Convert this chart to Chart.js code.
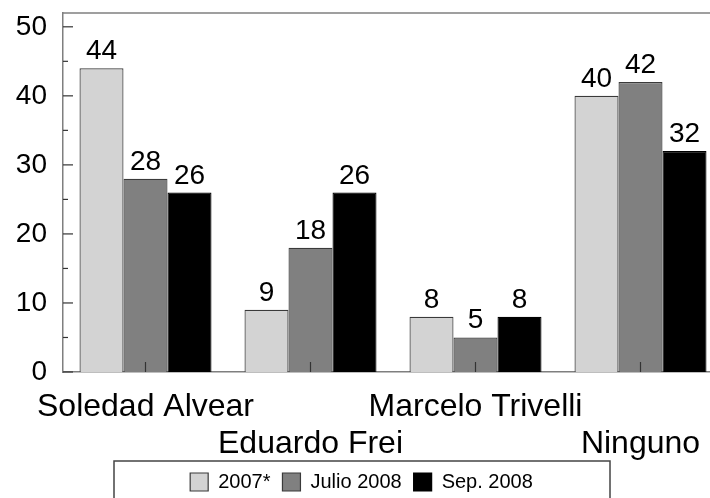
<!DOCTYPE html>
<html>
<head>
<meta charset="utf-8">
<script src="https://cdn.jsdelivr.net/npm/chart.js@4"></script>
<style>
    html, body { margin: 0; padding: 0; background: #ffffff; overflow: hidden; }
    #wrap { width: 724px; height: 502px; }
</style>
</head>
<body>
<div id="wrap"><canvas id="chart" width="724" height="502"></canvas></div>
<script>
// categories (two rows of labels, alternating)
const categories = [
    ['Soledad Alvear', ''],
    ['', 'Eduardo Frei'],
    ['Marcelo Trivelli', ''],
    ['', 'Ninguno']
];
const series_names = ['2007*', 'Julio 2008', 'Sep. 2008'];
const values_2007 = [44, 9, 8, 40];
const values_jul2008 = [28, 18, 5, 42];
const values_sep2008 = [26, 26, 8, 32];
const y_ticks = [0, 10, 20, 30, 40, 50];
const y_minor = [5, 15, 25, 35, 45];

const font_family = '"Liberation Sans", Arial, sans-serif';
const axis_color = '#7f7f7f';
const canvas_h = 502;

// ticks inside the plot, top frame line and value labels
const extras_plugin = {
    id: 'extras',
    afterDatasetsDraw(chart) {
        const ctx = chart.ctx;
        const area = chart.chartArea;
        const y = chart.scales.y;
        const x = chart.scales.x;

        ctx.save();
        ctx.strokeStyle = '#333333';
        ctx.lineWidth = 1.2;
        y_ticks.forEach(v => {
            let py = y.getPixelForValue(v);
            ctx.beginPath();
            ctx.moveTo(area.left, py);
            ctx.lineTo(area.left + 10, py);
            ctx.stroke();
        });
        y_minor.forEach(v => {
            let py = y.getPixelForValue(v);
            ctx.beginPath();
            ctx.moveTo(area.left, py);
            ctx.lineTo(area.left + 5, py);
            ctx.stroke();
        });
        for (let i = 0; i < categories.length; i++) {
            let px = x.getPixelForValue(i);
            ctx.beginPath();
            ctx.moveTo(px, area.bottom);
            ctx.lineTo(px, area.bottom - 10);
            ctx.stroke();
        }

        ctx.strokeStyle = axis_color;
        ctx.lineWidth = 1.5;
        ctx.beginPath();
        ctx.moveTo(area.left, area.top);
        ctx.lineTo(area.right, area.top);
        ctx.stroke();

        ctx.fillStyle = '#000000';
        ctx.font = '28px ' + font_family;
        ctx.textAlign = 'center';
        ctx.textBaseline = 'alphabetic';
        chart.data.datasets.forEach((ds, di) => {
            chart.getDatasetMeta(di).data.forEach((bar, i) => {
                ctx.fillText(String(ds.data[i]), bar.x, bar.y - 9);
            });
        });
        ctx.restore();
    },
    afterDraw(chart) {
        const ctx = chart.ctx;
        const legend = chart.legend;
        ctx.save();
        ctx.strokeStyle = '#444444';
        ctx.lineWidth = 1.5;
        let w = 496;
        let left = chart.width / 2 - w / 2;
        ctx.strokeRect(left, legend.top + 1, w, 60);
        ctx.restore();
    }
};

new Chart(document.getElementById('chart').getContext('2d'), {
    type: 'bar',
    data: {
        labels: categories,
        datasets: [
            {
                label: series_names[0],
                data: values_2007,
                backgroundColor: '#d3d3d3',
                borderColor: '#3a3a3a',
                borderWidth: 1.2
            },
            {
                label: series_names[1],
                data: values_jul2008,
                backgroundColor: '#808080',
                borderColor: '#3a3a3a',
                borderWidth: 1.2
            },
            {
                label: series_names[2],
                data: values_sep2008,
                backgroundColor: '#000000',
                borderColor: '#000000',
                borderWidth: 1.2
            }
        ]
    },
    options: {
        responsive: false,
        animation: false,
        layout: { padding: { top: 13, right: 1, left: 0, bottom: 0 } },
        datasets: {
            bar: { categoryPercentage: 0.8, barPercentage: 1.0 }
        },
        plugins: {
            tooltip: { enabled: false },
            legend: {
                position: 'bottom',
                labels: {
                    color: '#000000',
                    font: { family: font_family, size: 20 },
                    boxWidth: 18,
                    boxHeight: 18,
                    padding: 12
                }
            }
        },
        scales: {
            x: {
                grid: { display: false, drawTicks: false },
                border: { display: true, color: axis_color, width: 1.5 },
                ticks: {
                    color: '#000000',
                    font: { family: font_family, size: 32, lineHeight: 1.15 },
                    autoSkip: false,
                    maxRotation: 0,
                    minRotation: 0,
                    padding: 17
                },
                afterFit(scale) {
                    scale.height = canvas_h - 372 - scale.chart.legend.height;
                }
            },
            y: {
                min: 0,
                max: 52,
                grid: { display: false, drawTicks: false },
                border: { display: true, color: axis_color, width: 1.5 },
                ticks: {
                    color: '#000000',
                    font: { family: font_family, size: 28 },
                    stepSize: 10,
                    padding: 16
                },
                afterBuildTicks(scale) {
                    scale.ticks = y_ticks.map(v => ({ value: v }));
                },
                afterFit(scale) {
                    scale.width = 63;
                    scale.paddingTop = 0;
                    scale.paddingBottom = 0;
                }
            }
        }
    },
    plugins: [extras_plugin]
});
</script>
</body>
</html>
